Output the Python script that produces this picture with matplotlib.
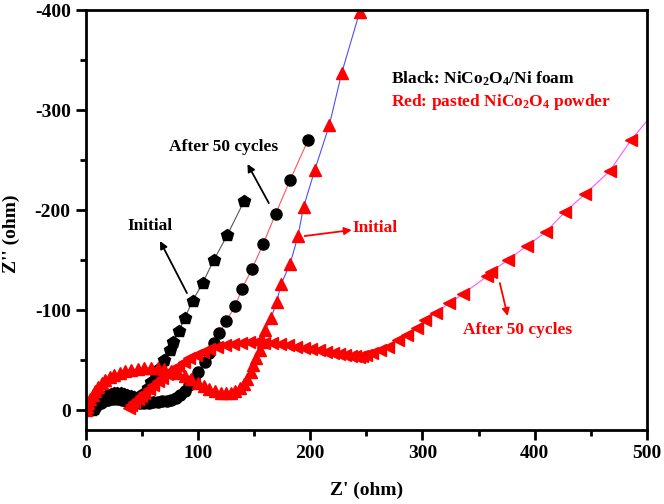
import matplotlib
matplotlib.use("Agg")
import matplotlib.pyplot as plt
from matplotlib.ticker import MultipleLocator

plt.rcParams["font.family"] = ["Liberation Serif", "DejaVu Serif"]
plt.rcParams["font.weight"] = "bold"
plt.rcParams["axes.labelweight"] = "bold"
plt.rcParams["mathtext.default"] = "regular"
plt.rcParams["axes.unicode_minus"] = False


# --------------------------------------------------
# DATA (Z' vs Z'' in ohm)
# --------------------------------------------------

# Black: NiCo2O4/Ni foam, initial (pentagons)
foam_init_x = [1, 3, 5, 7, 8, 10, 12, 14, 16, 19, 22, 25, 28, 31, 34, 37, 40, 43, 46, 49,
               52, 55, 58, 62, 66, 70, 75, 78, 83, 88, 95, 104, 114, 126, 141]
foam_init_y = [0, 0, 0, -1, -3, -6, -9, -11, -13, -15, -16, -17, -17, -17, -16, -15, -14, -13, -13, -14,
               -17, -22, -28, -35, -42, -50, -60, -68, -79, -92, -109, -127, -150, -175, -209]

# Black: NiCo2O4/Ni foam, after 50 cycles (circles)
foam_50_x = [4, 6, 8, 10, 13, 16, 20, 24, 28, 32, 36, 40, 44, 48, 52, 56, 60, 64, 68, 72,
             76, 80, 84, 88, 92, 96, 100, 106, 110, 114, 119, 125, 133, 139, 148, 158, 169, 182, 198]
foam_50_y = [0, -1, -3, -5, -7, -9, -10, -11, -11, -10, -9, -8, -7, -7, -7, -7, -8, -8, -9, -9,
             -10, -12, -15, -19, -25, -31, -38, -48, -57, -67, -77, -89, -104, -121, -141, -166, -196, -230, -270]

# Red: pasted NiCo2O4 powder, initial (up triangles)
powder_init_x = [0, 1, 2, 4, 6, 8, 11, 14, 17, 21, 25, 30, 35, 40, 46, 52, 58, 64, 70, 76,
                 82, 88, 94, 100, 105, 110, 115, 120, 125, 129, 133, 137, 141, 144, 147, 149,
                 152, 155, 158, 160, 165, 170, 174, 182, 189, 194, 204, 217, 228, 244]
powder_init_y = [0, -3, -7, -11, -15, -19, -23, -27, -30, -33, -35, -37, -39, -40, -41, -42, -42, -42, -41, -39,
                 -37, -34, -31, -27, -24, -21, -19, -17, -17, -17, -19, -22, -26, -31, -38, -45,
                 -52, -60, -68, -80, -92, -108, -126, -146, -174, -203, -240, -285, -337, -398]

# Red: pasted NiCo2O4 powder, after 50 cycles (left triangles)
powder_50_x = [38, 40, 43, 46, 49, 52, 56, 60, 64, 68, 72, 77, 82, 87, 92, 98, 104, 110, 117, 124,
               131, 138, 145, 152, 159, 166, 173, 180, 187, 194, 201, 208, 214, 220, 226, 231, 236, 240,
               243, 246, 250, 255, 262, 269, 278, 286, 295, 302, 312, 324, 336, 358, 361, 376, 393,
               410, 427, 445, 467, 486, 512]
powder_50_y = [-2, -5, -8, -11, -14, -17, -21, -25, -29, -32, -36, -40, -44, -48, -52, -55, -58, -61, -63, -65,
               -66, -67, -68, -68, -67, -67, -66, -65, -63, -62, -61, -60, -58, -57, -56, -55, -54, -54,
               -53, -54, -55, -57, -60, -63, -70, -75, -82, -90, -97, -107, -116, -134, -138, -150, -164,
               -178, -198, -216, -239, -270, -305]


# --------------------------------------------------
# PLOT
# --------------------------------------------------

fig = plt.figure(figsize=(6.64, 5.04), dpi=100)
ax = fig.add_axes([0.1295, 0.1468, 0.8445, 0.8333])

ax.plot(foam_init_x, foam_init_y, color="#555555", lw=0.8,
        marker="p", ms=9, mfc="black", mec="black")
ax.plot(foam_50_x, foam_50_y, color="#ff5555", lw=0.8,
        marker="o", ms=8, mfc="black", mec="black")
ax.plot(powder_init_x, powder_init_y, color="#4d4dff", lw=0.8,
        marker="^", ms=9, mfc="red", mec="red")
ax.plot(powder_50_x, powder_50_y, color="#ff55ff", lw=0.8,
        marker="<", ms=9, mfc="red", mec="red")

ax.set_xlim(0, 500)
ax.set_ylim(20, -400)
ax.xaxis.set_major_locator(MultipleLocator(100))
ax.xaxis.set_minor_locator(MultipleLocator(50))
ax.yaxis.set_major_locator(MultipleLocator(100))
ax.yaxis.set_minor_locator(MultipleLocator(50))
ax.tick_params(which="both", direction="out", width=2, labelsize=14, pad=4)
ax.tick_params(which="major", length=7)
ax.tick_params(which="minor", length=4)
for s in ax.spines.values():
    s.set_linewidth(2)

ax.set_xlabel("Z' (ohm)", fontsize=14)
ax.set_ylabel("Z'' (ohm)", fontsize=14)
ax.xaxis.set_label_coords(0.5, -0.122)
ax.yaxis.set_label_coords(-0.118, 0.467)

# legend-like text
ax.text(272, -331, "Black: NiCo$_2$O$_4$/Ni foam", color="black", fontsize=12.5, va="center")
ax.text(272, -308, "Red: pasted NiCo$_2$O$_4$ powder", color="red", fontsize=12.5, va="center")

# annotations with arrows
ax.text(74, -263, "After 50 cycles", color="black", fontsize=12.5, va="center")
ax.text(37, -184, "Initial", color="black", fontsize=12.5, va="center")
ax.text(238, -182, "Initial", color="red", fontsize=12.5, va="center")
ax.text(336, -80, "After 50 cycles", color="red", fontsize=12.5, va="center")

arrow_k = dict(arrowstyle="-|>", color="black", lw=1.3, mutation_scale=11, shrinkA=0, shrinkB=0)
arrow_r = dict(arrowstyle="-|>", color="red", lw=1.3, mutation_scale=11, shrinkA=0, shrinkB=0)
ax.annotate("", xy=(66, -169), xytext=(90, -117), arrowprops=arrow_k)
ax.annotate("", xy=(144, -246), xytext=(163, -207), arrowprops=arrow_k)
ax.annotate("", xy=(237, -180), xytext=(195, -174), arrowprops=arrow_r)
ax.annotate("", xy=(376, -94), xytext=(369, -127), arrowprops=arrow_r)

fig.savefig("out.png", dpi=100)
